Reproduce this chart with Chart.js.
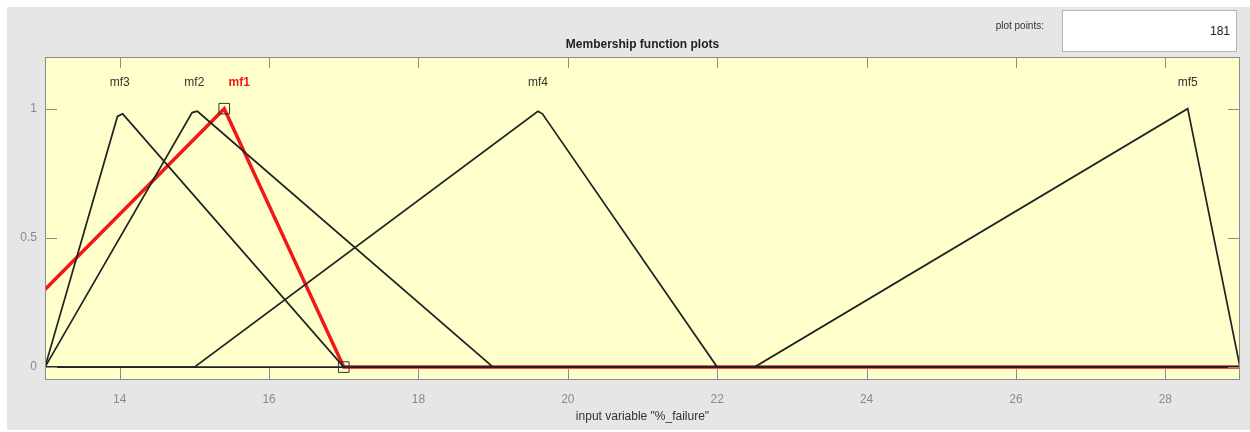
<!DOCTYPE html>
<html>
<head>
<meta charset="utf-8">
<script src="https://cdn.jsdelivr.net/npm/chart.js@4.4.1/dist/chart.umd.min.js"></script>
<style>
    body { margin: 0; background: #ffffff; font-family: "Liberation Sans", Arial, sans-serif; }
    #panel { position: absolute; left: 7px; top: 7px; width: 1243px; height: 423px; background: #e6e6e6; }
    #wrap { position: absolute; left: 0; top: 0; width: 1250px; height: 432px; }
    #pp-label { position: absolute; left: 960px; top: 20px; width: 84px; text-align: right; font-size: 10px; color: #333; }
    #pp-box { position: absolute; left: 1062px; top: 10px; width: 173px; height: 40px; background: #fff; border: 1px solid #b4b4b4; }
    #pp-box span { position: absolute; right: 6px; top: 13px; font-size: 12px; color: #222; }
</style>
</head>
<body>
<div id="panel"></div>
<div id="wrap"><canvas id="mfChart" width="1250" height="432"></canvas></div>
<div id="pp-label">plot points:</div>
<div id="pp-box"><span>181</span></div>
<script>
// membership functions (x = %_failure, y = degree)
const mf3X = [13, 13.97, 14.04, 17, 29];
const mf3Y = [0, 0.97, 0.98, 0, 0];
const mf2X = [13, 14.97, 15.04, 19, 29];
const mf2Y = [0, 0.985, 0.99, 0, 0];
const mf4X = [13, 15, 19.6, 19.66, 22, 29];
const mf4Y = [0, 0, 0.99, 0.98, 0, 0];
const mf5X = [13, 22.5, 28.3, 29];
const mf5Y = [0, 0, 1, 0];
const mf1X = [13, 15.4, 17, 29];
const mf1Y = [0.3, 1, 0, 0];

const mfNames = ['mf3', 'mf2', 'mf1', 'mf4', 'mf5'];
const mfLabelX = [14, 15, 15.6, 19.6, 28.3];
const selectedX = [15.4, 17];
const selectedY = [1, 0];

const xTicks = [14, 16, 18, 20, 22, 24, 26, 28];
const yTicks = [0, 0.5, 1];
const yTickLabels = ['0', '0.5', '1'];

const toPts = (xs, ys) => xs.map((x, i) => ({ x: x, y: ys[i] }));

const black = '#222222';
const red = '#f01818';
const tickGray = '#8a8a8a';

const decor = {
    id: 'decor',
    beforeDraw(chart) {
        const { ctx, chartArea: a } = chart;
        ctx.save();
        ctx.fillStyle = '#ffffcc';
        ctx.fillRect(a.left, a.top, a.right - a.left, a.bottom - a.top);
        ctx.restore();
    },
    afterDraw(chart) {
        const { ctx, chartArea: a, scales } = chart;
        ctx.save();
        // box + inside ticks
        ctx.strokeStyle = '#8c8c8c';
        ctx.lineWidth = 1;
        ctx.strokeRect(a.left + 0.5, a.top + 0.5, a.right - a.left - 1, a.bottom - a.top - 1);
        ctx.beginPath();
        xTicks.forEach(v => {
            const px = Math.round(scales.x.getPixelForValue(v)) + 0.5;
            ctx.moveTo(px, a.bottom); ctx.lineTo(px, a.bottom - 12);
            ctx.moveTo(px, a.top); ctx.lineTo(px, a.top + 11);
        });
        yTicks.forEach(v => {
            const py = Math.round(scales.y.getPixelForValue(v)) + 0.5;
            ctx.moveTo(a.left, py); ctx.lineTo(a.left + 12, py);
            ctx.moveTo(a.right, py); ctx.lineTo(a.right - 12, py);
        });
        ctx.stroke();

        // mf names
        ctx.textAlign = 'center';
        ctx.textBaseline = 'middle';
        mfNames.forEach((n, i) => {
            const px = scales.x.getPixelForValue(mfLabelX[i]);
            const py = scales.y.getPixelForValue(1.1);
            if (n === 'mf1') {
                ctx.font = 'bold 12px "Liberation Sans", Arial, sans-serif';
                ctx.fillStyle = red;
            } else {
                ctx.font = '12px "Liberation Sans", Arial, sans-serif';
                ctx.fillStyle = '#333';
            }
            ctx.fillText(n, px, py);
        });

        // titles
        const cx = (a.left + a.right) / 2;
        ctx.fillStyle = '#222';
        ctx.font = 'bold 12px "Liberation Sans", Arial, sans-serif';
        ctx.fillText('Membership function plots', cx, 45);
        ctx.font = '12px "Liberation Sans", Arial, sans-serif';
        ctx.fillStyle = '#333';
        ctx.fillText('input variable "%_failure"', cx, 417);
        ctx.restore();
    }
};

new Chart(document.getElementById('mfChart'), {
    type: 'scatter',
    data: {
        datasets: [
            {
                label: 'selected',
                data: toPts(selectedX, selectedY),
                showLine: false,
                pointStyle: 'rect',
                pointRadius: 7.5,
                pointBackgroundColor: 'rgba(0,0,0,0)',
                pointBorderColor: '#333',
                pointBorderWidth: 1
            },
            { label: 'mf3', data: toPts(mf3X, mf3Y), showLine: true, borderColor: black, borderWidth: 1.7, pointRadius: 0 },
            { label: 'mf2', data: toPts(mf2X, mf2Y), showLine: true, borderColor: black, borderWidth: 1.7, pointRadius: 0 },
            { label: 'mf4', data: toPts(mf4X, mf4Y), showLine: true, borderColor: black, borderWidth: 1.7, pointRadius: 0 },
            { label: 'mf5', data: toPts(mf5X, mf5Y), showLine: true, borderColor: black, borderWidth: 1.7, pointRadius: 0 },
            { label: 'mf1', data: toPts(mf1X, mf1Y), showLine: true, borderColor: red, borderWidth: 3.5, pointRadius: 0 }
        ]
    },
    options: {
        responsive: false,
        animation: false,
        layout: { padding: { top: 57, right: 10, left: 0, bottom: 0 } },
        plugins: { legend: { display: false }, tooltip: { enabled: false } },
        scales: {
            x: {
                type: 'linear',
                min: 13,
                max: 29,
                afterBuildTicks: s => { s.ticks = xTicks.map(v => ({ value: v })); },
                afterFit: s => { s.height = 52; },
                grid: { display: false, drawTicks: false },
                border: { display: false },
                ticks: { color: tickGray, padding: 12, font: { size: 12, family: '"Liberation Sans", Arial, sans-serif' } }
            },
            y: {
                type: 'linear',
                min: -0.05,
                max: 1.2,
                afterBuildTicks: s => { s.ticks = yTicks.map(v => ({ value: v })); },
                afterFit: s => { s.width = 45; },
                grid: { display: false, drawTicks: false },
                border: { display: false },
                ticks: {
                    color: tickGray,
                    padding: 8,
                    font: { size: 12, family: '"Liberation Sans", Arial, sans-serif' },
                    callback: (v, i) => yTickLabels[i]
                }
            }
        }
    },
    plugins: [decor]
});
</script>
</body>
</html>
